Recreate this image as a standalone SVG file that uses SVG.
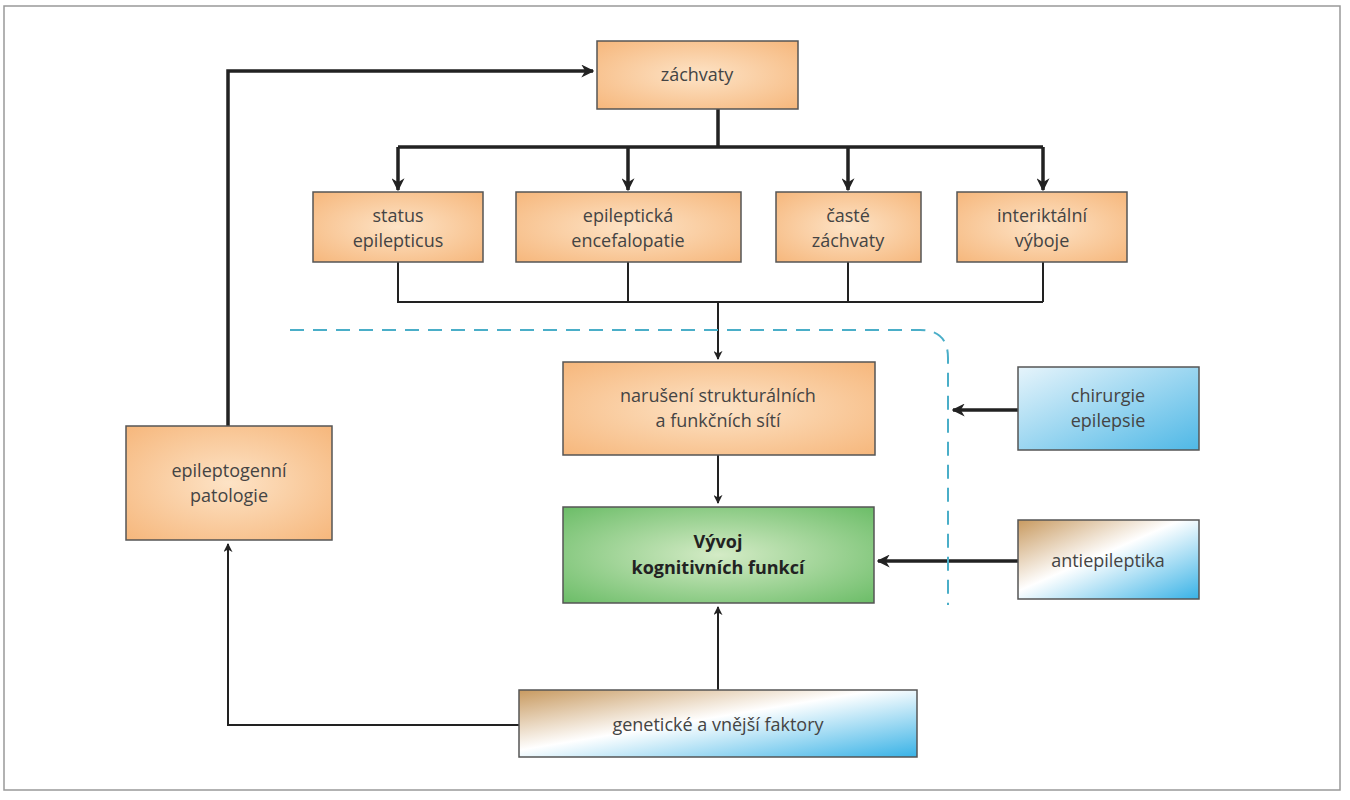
<svg xmlns="http://www.w3.org/2000/svg" width="1350" height="800" viewBox="0 0 1350 800">
<defs>
<radialGradient id="og" cx="0.5" cy="0.5" r="0.7"><stop offset="0" stop-color="#fde3c6"/><stop offset="1" stop-color="#f6b77c"/></radialGradient>
<radialGradient id="gg" cx="0.5" cy="0.5" r="0.7"><stop offset="0" stop-color="#d4ebc6"/><stop offset="1" stop-color="#6cbd68"/></radialGradient>
<linearGradient id="bg" x1="0" y1="0" x2="1" y2="1"><stop offset="0" stop-color="#e6f4fb"/><stop offset="1" stop-color="#4fb8e6"/></linearGradient>
<linearGradient id="mg" x1="0" y1="0" x2="1" y2="1"><stop offset="0" stop-color="#c89a60"/><stop offset="0.45" stop-color="#ffffff"/><stop offset="1" stop-color="#38b2e6"/></linearGradient>
<marker id="a" viewBox="0 0 10 10" refX="9" refY="5" markerWidth="9" markerHeight="9" markerUnits="userSpaceOnUse" orient="auto"><path d="M0,0 L10,5 L0,10 L3,5 z" fill="#222"/></marker>
<marker id="A" viewBox="0 0 10 10" refX="9" refY="5" markerWidth="13" markerHeight="13" markerUnits="userSpaceOnUse" orient="auto"><path d="M0,0 L10,5 L0,10 L3,5 z" fill="#222"/></marker>
<style>
.b{stroke:#555;stroke-width:1.5}
text{font-family:"Open Sans","Liberation Sans",sans-serif;font-size:18px;fill:#444;text-anchor:middle}
.t{stroke:#222;stroke-width:3.5;fill:none}
.n{stroke:#222;stroke-width:2;fill:none}
</style>
</defs>
<rect x="4" y="6" width="1336" height="784" fill="#fff" stroke="#999" stroke-width="1.5"/>
<g id="connectors">
<path class="t" d="M718,109 V147 M398,147 H1043"/>
<path class="t" d="M398,147 V190" marker-end="url(#A)"/>
<path class="t" d="M628,147 V190" marker-end="url(#A)"/>
<path class="t" d="M848,147 V190" marker-end="url(#A)"/>
<path class="t" d="M1043,147 V190" marker-end="url(#A)"/>
<path class="n" d="M398,262 V302 H1043 M628,262 V302 M848,262 V302 M1043,262 V302"/>
<path class="n" d="M718,302 V359" marker-end="url(#a)"/>
<path class="n" d="M718,455 V503" marker-end="url(#a)"/>
<path class="n" d="M718,690 V607" marker-end="url(#a)"/>
<path class="n" d="M519,725 H228 V544" marker-end="url(#a)"/>
<path class="t" d="M228,426 V71 H593" marker-end="url(#A)"/>
<path class="t" d="M1018,410 H953" marker-end="url(#A)"/>
<path class="t" d="M1018,561 H878" marker-end="url(#A)"/>
<path d="M290,330 H920 Q948,330 948,358 V605" fill="none" stroke="#4aaec8" stroke-width="2" stroke-dasharray="14,9"/>
</g>
<g id="zachvaty"><rect class="b" x="597" y="41" width="201" height="68" fill="url(#og)"/><text x="697" y="81">záchvaty</text></g>
<g id="status"><rect class="b" x="313" y="192" width="170" height="70" fill="url(#og)"/><text x="398" y="222">status</text><text x="398" y="247">epilepticus</text></g>
<g id="encef"><rect class="b" x="516" y="192" width="225" height="70" fill="url(#og)"/><text x="628" y="222">epileptická</text><text x="628" y="247">encefalopatie</text></g>
<g id="caste"><rect class="b" x="776" y="192" width="145" height="70" fill="url(#og)"/><text x="848" y="222">časté</text><text x="848" y="247">záchvaty</text></g>
<g id="interikt"><rect class="b" x="957" y="192" width="170" height="70" fill="url(#og)"/><text x="1042" y="222">interiktální</text><text x="1042" y="247">výboje</text></g>
<g id="naruseni"><rect class="b" x="563" y="362" width="312" height="93" fill="url(#og)"/><text x="718" y="402">narušení strukturálních</text><text x="718" y="427">a funkčních sítí</text></g>
<g id="vyvoj"><rect class="b" x="563" y="507" width="311" height="96" fill="url(#gg)"/><text x="718" y="548" style="font-weight:bold;fill:#222">Vývoj</text><text x="718" y="574" style="font-weight:bold;fill:#222">kognitivních funkcí</text></g>
<g id="chirurgie"><rect class="b" x="1018" y="367" width="181" height="83" fill="url(#bg)"/><text x="1108" y="402">chirurgie</text><text x="1108" y="427">epilepsie</text></g>
<g id="antiep"><rect class="b" x="1018" y="520" width="181" height="79" fill="url(#mg)"/><text x="1108" y="567">antiepileptika</text></g>
<g id="epileptogenni"><rect class="b" x="126" y="426" width="206" height="114" fill="url(#og)"/><text x="229" y="477">epileptogenní</text><text x="229" y="502">patologie</text></g>
<g id="geneticke"><rect class="b" x="519" y="690" width="398" height="67" fill="url(#mg)"/><text x="718" y="731">genetické a vnější faktory</text></g>
</svg>
